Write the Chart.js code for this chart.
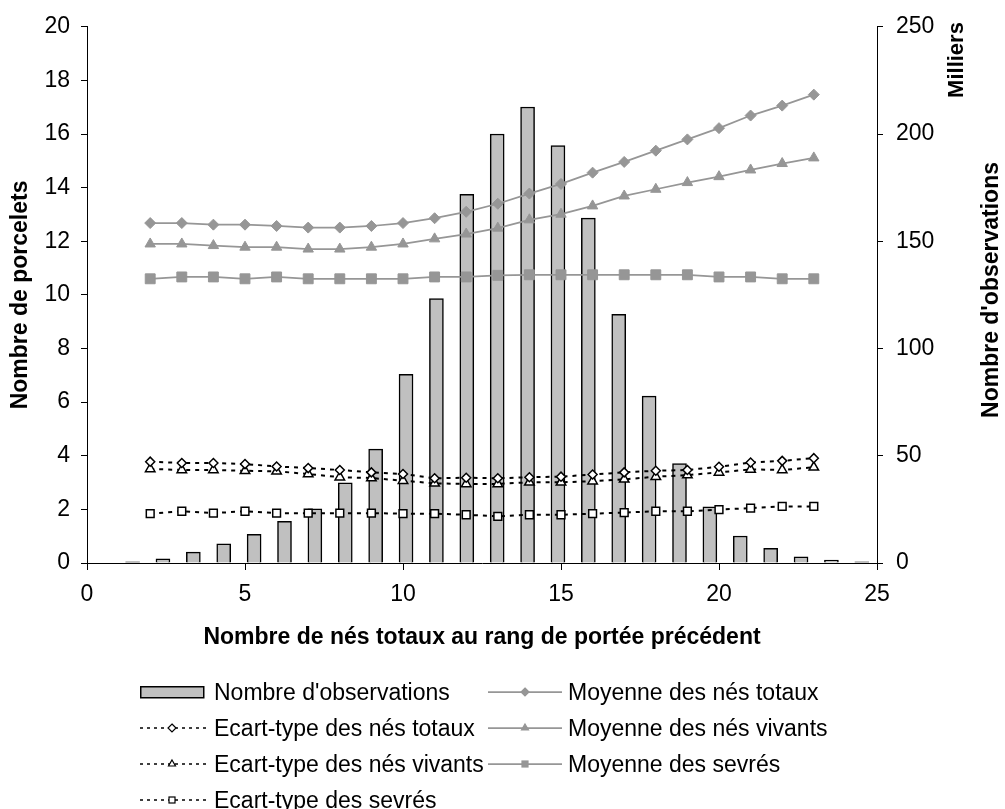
<!DOCTYPE html>
<html><head><meta charset="utf-8">
<script src="https://cdn.jsdelivr.net/npm/chart.js@4/dist/chart.umd.min.js"></script>
<style>
body{margin:0;background:#fff;}
#wrap{position:relative;width:1005px;height:809px;overflow:hidden;font-family:"Liberation Sans",Arial,sans-serif;background:#fff;}
#c{position:absolute;left:0;top:0;}
.leg{position:absolute;height:30px;display:flex;align-items:center;font-size:23px;color:#000;white-space:nowrap;}
.leg svg{display:block;}
</style></head><body>
<div id="wrap"><canvas id="c" width="1005" height="809"></canvas><div id="legend"></div></div>
<script>
// ---- data ----
const barCategories = [0,1,2,3,4,5,6,7,8,9,10,11,12,13,14,15,16,17,18,19,20,21,22,23,24,25];
const observations = [null,0.6,2.0,5.1,8.9,13.4,19.4,25.2,37.4,53.1,88.0,123.3,171.9,200.0,212.6,194.6,160.8,115.9,77.8,46.4,26.2,12.6,6.8,2.9,1.4,0.6]; // milliers
const litterSize = [2,3,4,5,6,7,8,9,10,11,12,13,14,15,16,17,18,19,20,21,22,23];
const meanTotal = [12.68,12.68,12.62,12.62,12.57,12.51,12.51,12.57,12.68,12.86,13.10,13.40,13.78,14.14,14.56,14.96,15.38,15.80,16.22,16.69,17.06,17.47];
const meanAlive = [11.90,11.90,11.84,11.78,11.78,11.71,11.71,11.78,11.90,12.09,12.27,12.49,12.80,13.01,13.32,13.69,13.94,14.19,14.41,14.66,14.90,15.11];
const meanWeaned = [10.60,10.67,10.67,10.60,10.67,10.60,10.60,10.60,10.60,10.67,10.67,10.73,10.75,10.75,10.75,10.75,10.75,10.75,10.67,10.67,10.60,10.60];
const sdTotal = [3.78,3.73,3.73,3.69,3.60,3.54,3.47,3.38,3.32,3.16,3.18,3.16,3.20,3.22,3.30,3.38,3.44,3.47,3.59,3.75,3.81,3.91];
const sdAlive = [3.51,3.47,3.47,3.44,3.42,3.32,3.20,3.17,3.07,2.97,2.95,2.95,3.01,3.01,3.05,3.12,3.22,3.28,3.38,3.49,3.47,3.57];
const sdWeaned = [1.84,1.93,1.86,1.93,1.86,1.86,1.86,1.86,1.84,1.84,1.80,1.74,1.80,1.80,1.84,1.88,1.93,1.93,1.99,2.05,2.11,2.11];
const xTickValues = [0,5,10,15,20,25];
const leftTicks = [0,2,4,6,8,10,12,14,16,18,20];
const rightTicks = [0,50,100,150,200,250];

const FONT = '"Liberation Sans", Arial, sans-serif';
const GRAY = '#969696';
const pts = arr => litterSize.map((x, i) => ({x: x, y: arr[i]}));

function meanSet(label, arr, style, r) {
  return {type:'line', label, data: pts(arr), xAxisID:'x', yAxisID:'y',
    borderColor: GRAY, borderWidth: 1.75, pointStyle: style, pointRadius: r, pointHoverRadius: r,
    pointBackgroundColor: GRAY, pointBorderColor: GRAY, pointBorderWidth: 1, fill:false, order: 2};
}
function sdSet(label, arr, style, r) {
  return {type:'line', label, data: pts(arr), xAxisID:'x', yAxisID:'y',
    borderColor: '#000', borderWidth: 2, borderDash: [4,5], pointStyle: style, pointRadius: r, pointHoverRadius: r,
    pointBackgroundColor: '#fff', pointBorderColor: '#000', pointBorderWidth: 1.5, fill:false, order: 1};
}

const datasets = [
  {type:'bar', label:"Nombre d'observations", data: barCategories.map((c, i) => ({x: c, y: observations[i]})),
   xAxisID:'xb', yAxisID:'y2', grouped:false, barThickness: 14,
   backgroundColor:'#c0c0c0', borderColor:'#000', borderWidth:1.5, order: 10},
  meanSet('Moyenne des nés totaux', meanTotal, 'rectRot', 5.5),
  sdSet('Ecart-type des nés totaux', sdTotal, 'rectRot', 4.5),
  meanSet('Moyenne des nés vivants', meanAlive, 'triangle', 6),
  sdSet('Ecart-type des nés vivants', sdAlive, 'triangle', 5.5),
  meanSet('Moyenne des sevrés', meanWeaned, 'rect', 7),
  sdSet('Ecart-type des sevrés', sdWeaned, 'rect', 5.5)
];

const rightTitles = {
  id: 'rightTitles',
  afterDraw(chart) {
    const c = chart.ctx;
    c.save();
    c.fillStyle = '#000';
    c.textAlign = 'center';
    c.textBaseline = 'middle';
    [['Milliers', 957, 60, 22], ["Nombre d'observations", 992, 290, 23]].forEach(([t, x, y, s]) => {
      c.font = 'bold ' + s + 'px ' + FONT;
      c.save(); c.translate(x, y); c.rotate(-Math.PI / 2); c.fillText(t, 0, 0); c.restore();
    });
    c.restore();
  }
};

const tickFont = {family: FONT, size: 23};
const titleFont = {family: FONT, size: 23, weight: 'bold'};

new Chart(document.getElementById('c'), {
  data: {datasets},
  options: {
    responsive: false, animation: false,
    layout: {padding: {top: 23, bottom: 149, left: 0, right: 0}},
    plugins: {legend: {display: false}, tooltip: {enabled: false}},
    scales: {
      x: {type:'linear', position:'bottom', min:0, max:25, offset:false,
          afterBuildTicks: s => { s.ticks = xTickValues.map(v => ({value: v})); },
          ticks: {color:'#000', font: tickFont, padding: 11, maxRotation: 0},
          grid: {drawOnChartArea:false, tickLength:7, tickColor:'#000'},
          border: {color:'#000', width:1},
          title: {display:true, text:'Nombre de nés totaux au rang de portée précédent', color:'#000', font: titleFont, padding:{top:0, bottom:9}},
          afterFit: s => { s.height = 97; }},
      xb: {type:'linear', display:false, min:-0.5, max:25.5, offset:false, grid:{offset:false}},
      y: {type:'linear', position:'left', min:0, max:20,
          afterBuildTicks: s => { s.ticks = leftTicks.map(v => ({value: v})); },
          ticks: {color:'#000', font: tickFont, padding: 11},
          grid: {drawOnChartArea:false, tickLength:6, tickColor:'#000'},
          border: {color:'#000', width:1},
          title: {display:true, text:'Nombre de porcelets', color:'#000', font: titleFont, padding:{top:7, bottom:0}},
          afterFit: s => { s.width = 87; }},
      y2: {type:'linear', position:'right', min:0, max:250,
          afterBuildTicks: s => { s.ticks = rightTicks.map(v => ({value: v})); },
          ticks: {color:'#000', font: tickFont, padding: 13},
          grid: {drawOnChartArea:false, tickLength:6, tickColor:'#000'},
          border: {color:'#000', width:1},
          afterFit: s => { s.width = 128; }}
    }
  },
  plugins: [rightTitles]
});

// ---- HTML legend ----
function marker(style, cx, cy, r, fill, stroke) {
  if (style === 'rectRot') return `<polygon points="${cx},${cy-r} ${cx+r},${cy} ${cx},${cy+r} ${cx-r},${cy}" fill="${fill}" stroke="${stroke}" stroke-width="1.2"/>`;
  if (style === 'triangle') return `<polygon points="${cx},${cy-r} ${cx+r*0.87},${cy+r*0.5} ${cx-r*0.87},${cy+r*0.5}" fill="${fill}" stroke="${stroke}" stroke-width="1.2"/>`;
  const h = r * 0.75;
  return `<rect x="${cx-h}" y="${cy-h}" width="${2*h}" height="${2*h}" fill="${fill}" stroke="${stroke}" stroke-width="1.2"/>`;
}
const legendLayout = [
  {i:0, col:0, row:0}, {i:1, col:1, row:0},
  {i:2, col:0, row:1}, {i:3, col:1, row:1},
  {i:4, col:0, row:2}, {i:5, col:1, row:2},
  {i:6, col:0, row:3}
];
const colSym = [138, 488], colSymW = [68, 74], colText = [214, 568], rowY = [692, 728, 764, 800];
const legend = document.getElementById('legend');
legendLayout.forEach(({i, col, row}) => {
  const d = datasets[i];
  const w = colSymW[col];
  let svg = `<svg width="${w}" height="20" viewBox="0 0 ${w} 20">`;
  if (d.type === 'bar') {
    svg += `<rect x="2.75" y="4.75" width="63" height="11" fill="${d.backgroundColor}" stroke="#000" stroke-width="1.5"/>`;
  } else if (d.borderDash) {
    svg += `<line x1="2" y1="10" x2="${w}" y2="10" stroke="#000" stroke-width="1.6" stroke-dasharray="3,4"/>`;
    svg += marker(d.pointStyle, w / 2, 10, 4, '#fff', '#000');
  } else {
    svg += `<line x1="0" y1="10" x2="${w}" y2="10" stroke="${GRAY}" stroke-width="1.75"/>`;
    svg += marker(d.pointStyle, w / 2, 10, 4, GRAY, GRAY);
  }
  svg += '</svg>';
  const sym = document.createElement('div');
  sym.className = 'leg';
  sym.style.left = colSym[col] + 'px';
  sym.style.top = (rowY[row] - 15) + 'px';
  sym.innerHTML = svg;
  legend.appendChild(sym);
  const txt = document.createElement('div');
  txt.className = 'leg';
  txt.style.left = colText[col] + 'px';
  txt.style.top = (rowY[row] - 15) + 'px';
  txt.textContent = d.label;
  legend.appendChild(txt);
});
</script>
</body></html>
